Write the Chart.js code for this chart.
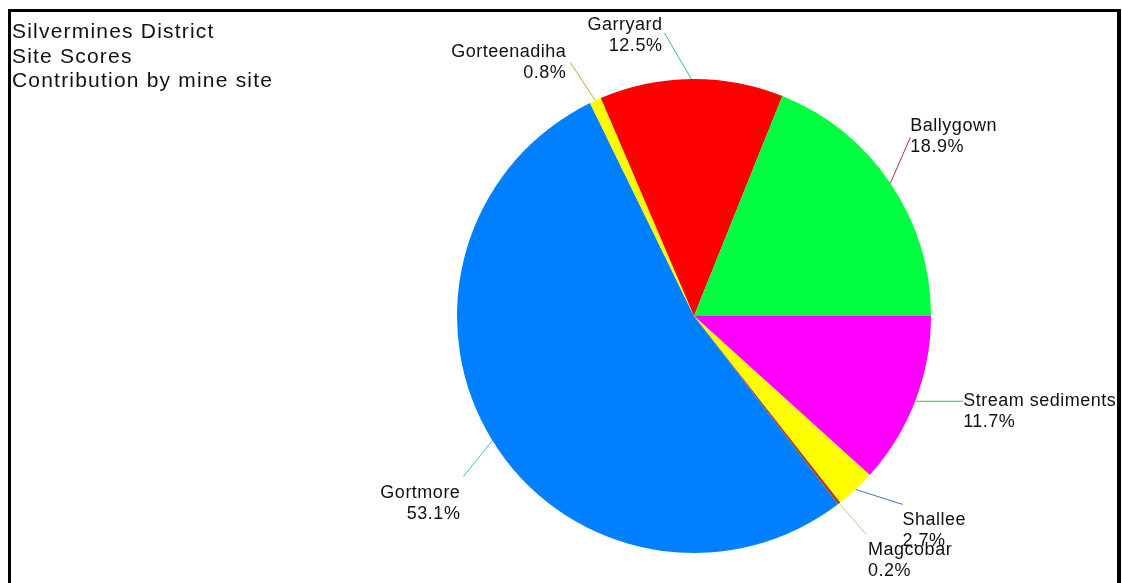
<!DOCTYPE html>
<html>
<head>
<meta charset="utf-8">
<title>Silvermines District - Site Scores</title>
<script src="https://cdn.jsdelivr.net/npm/chart.js@4.4.1/dist/chart.umd.min.js"></script>
<style>
  html, body { margin: 0; padding: 0; background: #fff; }
  canvas { display: block; }
</style>
</head>
<body>
<canvas id="siteChart" width="1122" height="583"></canvas>
<script>
// Slices go clockwise from 3 o'clock, so this is the picture's counter-clockwise order reversed
const sites = ['Stream sediments', 'Shallee', 'Magcobar', 'Gortmore', 'Gorteenadiha', 'Garryard', 'Ballygown'];
const shares = [11.7, 2.7, 0.2, 53.1, 0.8, 12.5, 18.9];
const sliceColors = ['#ff00ff', '#ffff00', '#b0401c', '#0080ff', '#ffff00', '#ff0000', '#00ff40'];
const leaderColors = ['#40c040', '#3878c0', '#c8c890', '#48c0c8', '#c8a830', '#30c0a0', '#b03040'];
const titleLines = ['Silvermines District', 'Site Scores', 'Contribution by mine site'];

// label placement relative to the slice edge (line end) and to the line end (text)
const labelPlacement = [
    { dx: 48, dy: 0, tx: 0, ty: 5, align: 'left' },
    { dx: 47, dy: 15, tx: 0, ty: 21, align: 'left' },
    { dx: 27, dy: 31, tx: 2, ty: 21, align: 'left' },
    { dx: -29, dy: 36, tx: -3, ty: 21, align: 'right' },
    { dx: -25, dy: -38, tx: -4, ty: -6, align: 'right' },
    { dx: -27, dy: -46, tx: -2, ty: -3, align: 'right' },
    { dx: 20, dy: -46, tx: 0, ty: -6, align: 'left' }
];

const FONT = '"Liberation Sans", Arial, sans-serif';

const framePlugin = {
    id: 'frame',
    beforeDraw(chart) {
        const ctx = chart.ctx;
        ctx.save();
        ctx.fillStyle = '#fff';
        ctx.fillRect(0, 0, chart.width, chart.height);
        ctx.restore();
    },
    afterDraw(chart) {
        const ctx = chart.ctx;
        ctx.save();
        ctx.fillStyle = '#000';
        ctx.fillRect(8, 9, 1113, 3);
        ctx.fillRect(8, 9, 3, chart.height);
        ctx.fillRect(1117, 9, 4, chart.height);

        ctx.fillStyle = '#111';
        ctx.font = '21px ' + FONT;
        ctx.letterSpacing = '1.2px';
        ctx.textAlign = 'left';
        ctx.textBaseline = 'alphabetic';
        titleLines.forEach((t, i) => ctx.fillText(t, 12, 38 + i * 24.5));
        ctx.restore();
    }
};

const sliceLabels = {
    id: 'sliceLabels',
    afterDatasetsDraw(chart) {
        const ctx = chart.ctx;
        const meta = chart.getDatasetMeta(0);
        ctx.save();
        ctx.font = '18px ' + FONT;
        ctx.letterSpacing = '0.5px';
        ctx.textBaseline = 'alphabetic';
        meta.data.forEach((arc, i) => {
            const p = arc.getProps(['x', 'y', 'startAngle', 'endAngle', 'outerRadius'], true);
            const mid = (p.startAngle + p.endAngle) / 2;
            const ax = p.x + Math.cos(mid) * p.outerRadius;
            const ay = p.y + Math.sin(mid) * p.outerRadius;
            const pl = labelPlacement[i];
            const ex = ax + pl.dx, ey = ay + pl.dy;

            ctx.strokeStyle = leaderColors[i];
            ctx.lineWidth = 1;
            ctx.beginPath();
            ctx.moveTo(ax, ay);
            ctx.lineTo(ex, ey);
            ctx.stroke();

            ctx.fillStyle = '#111';
            ctx.textAlign = pl.align;
            ctx.fillText(sites[i], ex + pl.tx, ey + pl.ty);
            ctx.fillText(`${shares[i].toFixed(1)}%`, ex + pl.tx, ey + pl.ty + 21);
        });
        ctx.restore();
    }
};

new Chart(document.getElementById('siteChart'), {
    type: 'pie',
    data: {
        labels: sites,
        datasets: [{
            data: shares,
            backgroundColor: sliceColors,
            borderWidth: 0
        }]
    },
    options: {
        responsive: false,
        animation: false,
        rotation: 90,
        layout: { padding: { left: 457, right: 191, top: 79, bottom: 30 } },
        plugins: {
            legend: { display: false },
            tooltip: { enabled: false },
            title: { display: false }
        }
    },
    plugins: [framePlugin, sliceLabels]
});
</script>
</body>
</html>
